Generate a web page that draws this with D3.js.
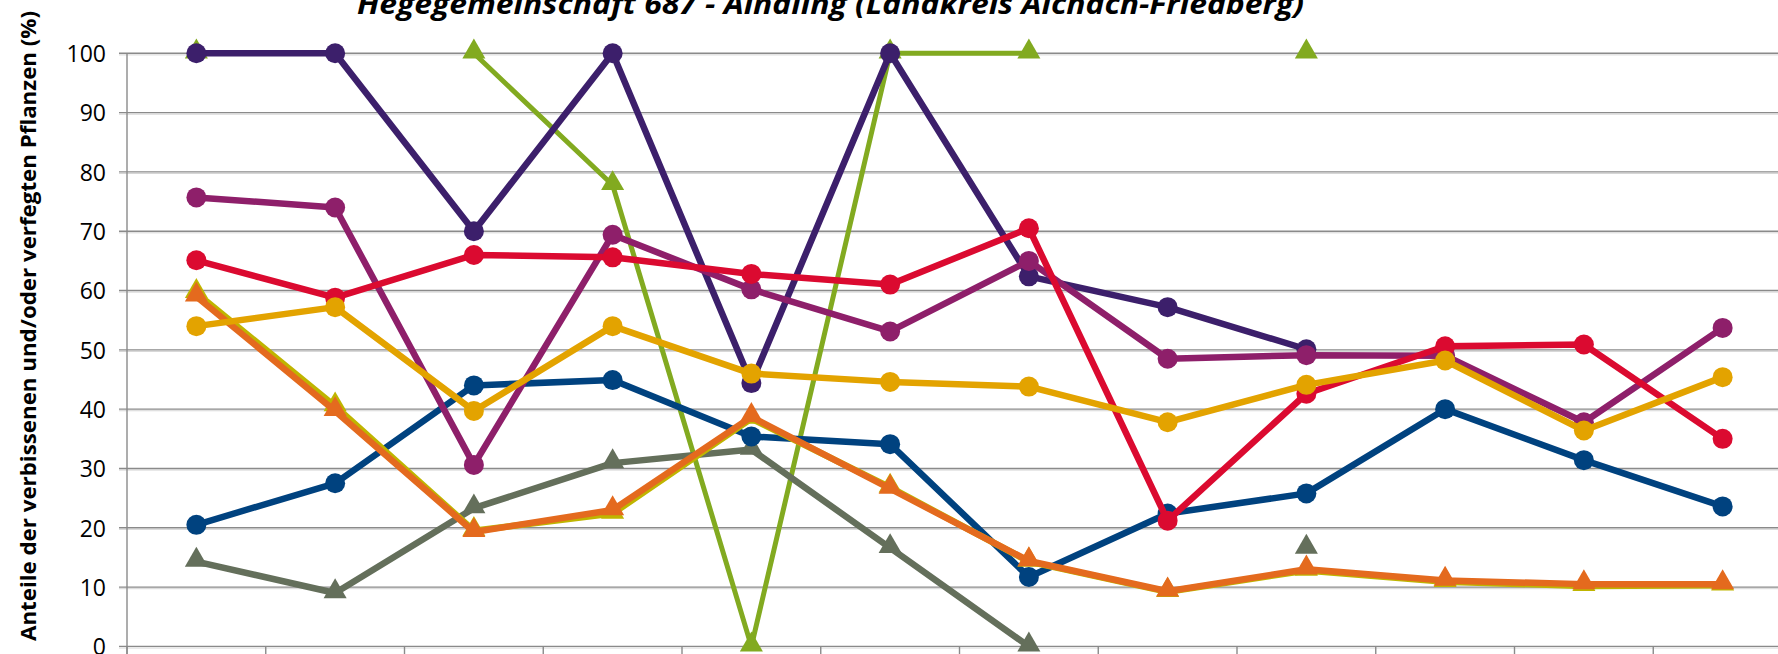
<!DOCTYPE html>
<html>
<head>
<meta charset="utf-8">
<script src="https://cdn.jsdelivr.net/npm/d3@7"></script>
<style>
  body { margin: 0; background: #fff; }
  svg { display: block; }
</style>
</head>
<body>
<div class="container"></div>
<script>
// ----- DATA -----
const categories = ["1", "2", "3", "4", "5", "6", "7", "8", "9", "10", "11", "12"];
const yTicks = [0, 10, 20, 30, 40, 50, 60, 70, 80, 90, 100];

const titleText = "Hegegemeinschaft 687 - Aindling (Landkreis Aichach-Friedberg)";
const yLabel = "Anteile der verbissenen und/oder verfegten Pflanzen (%)";

// triangle series
const seriesGreen  = [100, null, 100, 77.8, 0, 100, 100, null, 100, null, null, null];
const seriesGray   = [14.3, 9.0, 23.3, 30.9, 33.2, 16.6, 0, null, 16.5, null, null, null];
const seriesYellow = [59.6, 40.5, 19.5, 22.4, 38.4, 26.8, 14.3, 9.2, 12.8, 10.9, 10.2, 10.3];
const seriesOrange = [59.0, 39.7, 19.3, 23.0, 38.7, 26.6, 14.4, 9.3, 13.0, 11.1, 10.5, 10.5];
// circle series
const seriesBlue    = [20.5, 27.5, 44.0, 44.9, 35.4, 34.1, 11.7, 22.4, 25.8, 40.0, 31.4, 23.6];
const seriesPurple  = [100, 100, 70.0, 100, 44.4, 100, 62.4, 57.2, 50.1, null, null, null];
const seriesMagenta = [75.7, 74.0, 30.6, 69.4, 60.2, 53.1, 65.0, 48.5, 49.1, 49.0, 37.8, 53.7];
const seriesRed     = [65.1, 58.8, 66.0, 65.6, 62.8, 61.0, 70.5, 21.2, 42.6, 50.6, 50.9, 35.0];
const seriesGold    = [54.0, 57.2, 39.7, 54.0, 46.0, 44.6, 43.8, 37.8, 44.1, 48.2, 36.4, 45.4];

// drawing order, bottom to top
const series = [
  { name: "gruen",   values: seriesGreen,   color: "#82aa20", marker: "tri", width: 5 },
  { name: "grau",    values: seriesGray,    color: "#646f5b", marker: "tri", width: 6.5 },
  { name: "blau",    values: seriesBlue,    color: "#00427f", marker: "dot", width: 6.5 },
  { name: "violett", values: seriesPurple,  color: "#3c1f6b", marker: "dot", width: 6.5 },
  { name: "magenta", values: seriesMagenta, color: "#8e1f6a", marker: "dot", width: 6.5 },
  { name: "rot",     values: seriesRed,     color: "#db0a30", marker: "dot", width: 6.5 },
  { name: "gelb",    values: seriesYellow,  color: "#bfb500", marker: "tri", width: 6.5 },
  { name: "orange",  values: seriesOrange,  color: "#e46a1e", marker: "tri", width: 6.5 },
  { name: "gold",    values: seriesGold,    color: "#e3a300", marker: "dot", width: 6.5 }
];

const w = 1778;
const h = 654;
const axisX = 127;
const bandW = 138.75;

// ----- SCALES -----
const xScale = d3.scaleBand()
  .domain(categories)
  .range([axisX, axisX + bandW * categories.length]);

const yScale = d3.scaleLinear()
  .domain([0, 100])
  .range([646.4, 53.3]);

const cx = (i) => xScale(categories[i]) + xScale.bandwidth() / 2;

// ----- SVG -----
const svg = d3.select(".container")
  .append("svg")
  .attr("width", w)
  .attr("height", h);

// gridlines (with light shadow line like the original)
const grid = svg.append("g").attr("id", "grid");
grid.selectAll("line.shadow")
  .data(yTicks)
  .enter()
  .append("line")
  .attr("class", "shadow")
  .attr("x1", axisX - 8).attr("x2", w)
  .attr("y1", d => yScale(d) + 1.6).attr("y2", d => yScale(d) + 1.6)
  .attr("stroke", "#d6d6d6").attr("stroke-width", 1);
grid.selectAll("line.main")
  .data(yTicks)
  .enter()
  .append("line")
  .attr("class", "main")
  .attr("x1", axisX - 8).attr("x2", w)
  .attr("y1", d => yScale(d)).attr("y2", d => yScale(d))
  .attr("stroke", "#8a8a8a").attr("stroke-width", 1.4);

// y axis (labels only, the ticks are the gridline stubs)
const yAxis = d3.axisLeft(yScale).tickValues(yTicks).tickSize(8).tickPadding(13);
const gy = svg.append("g")
  .attr("id", "y-axis")
  .attr("transform", "translate(" + axisX + ",0)")
  .call(yAxis);
gy.select(".domain").remove();
gy.selectAll(".tick line").remove();
gy.selectAll("text")
  .attr("fill", "#000")
  .style("font-family", "'Open Sans', sans-serif")
  .style("font-size", "23px")
  .attr("dy", "0.36em");

svg.append("line")
  .attr("x1", axisX).attr("x2", axisX)
  .attr("y1", yScale(100)).attr("y2", h)
  .attr("stroke", "#8a8a8a").attr("stroke-width", 1.4);

// x axis: ticks between categories
const xAxis = d3.axisBottom(xScale).tickSize(0).tickFormat("");
const gx = svg.append("g")
  .attr("id", "x-axis")
  .attr("transform", "translate(0," + yScale(0) + ")")
  .call(xAxis);
gx.select(".domain").remove();
gx.selectAll(".bound")
  .data(categories)
  .enter()
  .append("line")
  .attr("x1", d => xScale(d)).attr("x2", d => xScale(d))
  .attr("y1", 0).attr("y2", 10)
  .attr("stroke", "#8a8a8a").attr("stroke-width", 1.4);

// ----- LINES + MARKERS -----
const line = d3.line()
  .defined(d => d.v != null)
  .x(d => cx(d.i))
  .y(d => yScale(d.v));

const triangle = d3.symbol().type(d3.symbolTriangle).size(230);

series.forEach(s => {
  const pts = s.values.map((v, i) => ({ i: i, v: v }));
  const g = svg.append("g").attr("class", "series " + s.name);

  g.append("path")
    .datum(pts)
    .attr("d", line)
    .attr("fill", "none")
    .attr("stroke", s.color)
    .attr("stroke-width", s.width)
    .attr("stroke-linejoin", "round");

  const valid = pts.filter(d => d.v != null);
  if (s.marker === "dot") {
    g.selectAll("circle")
      .data(valid)
      .enter()
      .append("circle")
      .attr("cx", d => cx(d.i))
      .attr("cy", d => yScale(d.v))
      .attr("r", 10)
      .attr("fill", s.color);
  } else {
    g.selectAll("path.mk")
      .data(valid)
      .enter()
      .append("path")
      .attr("class", "mk")
      .attr("d", triangle)
      .attr("transform", d => "translate(" + cx(d.i) + "," + (yScale(d.v) - 1.5) + ")")
      .attr("fill", s.color);
  }
});

// ----- TITLE -----
svg.append("text")
  .attr("x", 357)
  .attr("y", 13.5)
  .attr("textLength", 947)
  .attr("lengthAdjust", "spacingAndGlyphs")
  .style("font-family", "'Open Sans', sans-serif")
  .style("font-weight", "bold")
  .style("font-style", "italic")
  .style("font-size", "29px")
  .text(titleText);

// ----- Y LABEL -----
svg.append("text")
  .attr("transform", "translate(36,326) rotate(-90)")
  .attr("text-anchor", "middle")
  .attr("textLength", 630)
  .attr("lengthAdjust", "spacingAndGlyphs")
  .style("font-family", "'Open Sans', sans-serif")
  .style("font-weight", "bold")
  .style("font-size", "21px")
  .text(yLabel);
</script>
</body>
</html>
